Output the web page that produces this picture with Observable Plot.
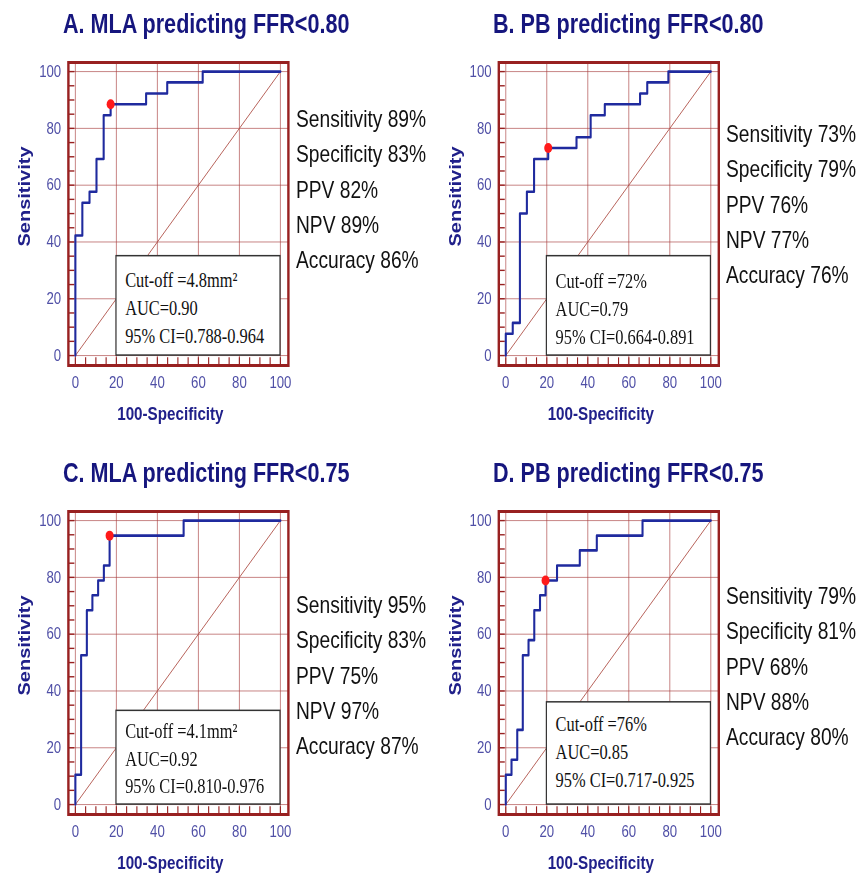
<!DOCTYPE html>
<html><head><meta charset="utf-8">
<script src="https://cdn.jsdelivr.net/npm/d3@7"></script>
<script src="https://cdn.jsdelivr.net/npm/@observablehq/plot@0.6"></script>
<style>
html,body{margin:0;padding:0;background:#fff;}
#clip{position:relative;width:860px;height:878px;overflow:hidden;background:#fff;}
#stage{position:absolute;left:0;top:0;width:1075px;height:878px;transform:scaleX(0.8);transform-origin:0 0;}
</style></head><body>
<div id="clip"><div id="stage"></div></div>
<script>
// ---------------- data ----------------
const titles = ["A. MLA predicting FFR<0.80", "B. PB predicting FFR<0.80", "C. MLA predicting FFR<0.75", "D. PB predicting FFR<0.75"];

// ROC corner points (100-Specificity, Sensitivity), in %
const fprA = [0, 0, 3.4, 6.9, 10.3, 13.8, 17.2, 34.5, 44.8, 62.1, 100];
const tprA = [0, 42.3, 53.8, 57.7, 69.2, 84.6, 88.5, 92.3, 96.2, 100, 100];
const fprB = [0, 0, 3.4, 6.9, 10.3, 13.8, 20.7, 34.5, 41.4, 48.3, 65.5, 69.0, 79.3, 100];
const tprB = [0, 7.7, 11.5, 50.0, 57.7, 69.2, 73.1, 76.9, 84.6, 88.5, 92.3, 96.2, 100, 100];
const fprC = [0, 0, 2.8, 5.6, 8.3, 11.1, 13.9, 16.7, 52.8, 100];
const tprC = [0, 10.5, 52.6, 68.4, 73.7, 78.9, 84.2, 94.7, 100, 100];
const fprD = [0, 0, 2.8, 5.6, 8.3, 11.1, 13.9, 16.7, 19.4, 25.0, 36.1, 44.4, 66.7, 100];
const tprD = [0, 10.5, 15.8, 26.3, 52.6, 57.9, 68.4, 73.7, 78.9, 84.2, 89.5, 94.7, 100, 100];

// optimal cut-off points
const cutFpr = [17.2, 20.7, 16.7, 19.4];
const cutTpr = [88.5, 73.1, 94.7, 78.9];

const statNames = ["Sensitivity", "Specificity", "PPV", "NPV", "Accuracy"];
const statsA = [89, 83, 82, 89, 86];
const statsB = [73, 79, 76, 77, 76];
const statsC = [95, 83, 75, 97, 87];
const statsD = [79, 81, 68, 88, 80];

const cutoffLabels = ["4.8mm\u00B2", "72%", "4.1mm\u00B2", "76%"];
const aucLabels = ["0.90", "0.79", "0.92", "0.85"];
const ciLabels = ["0.788-0.964", "0.664-0.891", "0.810-0.976", "0.717-0.925"];

const chance = [0, 100];
const xTicks = [0, 20, 40, 60, 80, 100];
const yTicks = [0, 20, 40, 60, 80, 100];
const minorTicks = d3.range(0, 101, 5);
const xLabel = "100-Specificity";
const yLabel = "Sensitivity";

// ---------------- layout & style ----------------
const S = 0.8; // horizontal compression of the whole figure
const SANS = "'Liberation Sans', Arial, Helvetica, sans-serif";
const SERIF = "'Liberation Serif', 'Times New Roman', serif";
const FRAME_C = "#982020", GRID_C = "#a83c3c", DIAG_C = "#b0524a";
const CURVE_C = "#1f2a9e", DOT_C = "#ff1a1a", TITLE_C = "#16167e";
const AXLAB_C = "#20208a", TICK_C = "#4f4fa6";
const FRAME_W = 275, FRAME_H = 303;
const ML = 80, MR = 6, MT = 20, MB = 70;
const X_DOMAIN = [-3.4, 103.9], Y_DOMAIN = [-3.5, 103.2];
const BOX_X = [20, 100];

const layout = [
  {fx: 68,  fy: 62,  tx: 63,  ty: 33,  sx: 296, sy: 127, boxTop: 35, boxDy: 11},
  {fx: 498, fy: 62,  tx: 493, ty: 33,  sx: 726, sy: 142, boxTop: 35, boxDy: 12},
  {fx: 68,  fy: 511, tx: 63,  ty: 482, sx: 296, sy: 613, boxTop: 33, boxDy: 7},
  {fx: 498, fy: 511, tx: 493, ty: 482, sx: 726, sy: 604, boxTop: 36, boxDy: 9}
];

const panels = [
  {fpr: fprA, tpr: tprA, stats: statsA},
  {fpr: fprB, tpr: tprB, stats: statsB},
  {fpr: fprC, tpr: tprC, stats: statsC},
  {fpr: fprD, tpr: tprD, stats: statsD}
].map((p, i) => ({
  ...p,
  title: titles[i],
  cutFpr: cutFpr[i],
  cutTpr: cutTpr[i],
  box: [`Cut-off =${cutoffLabels[i]}`, `AUC=${aucLabels[i]}`, `95% CI=${ciLabels[i]}`]
}));

const stage = document.getElementById("stage");

panels.forEach((p, i) => {
  const L = layout[i];
  const roc = p.fpr.map((x, j) => ({fpr: x, tpr: p.tpr[j]}));
  const plot = Plot.plot({
    width: ML + FRAME_W + MR,
    height: MT + FRAME_H + MB,
    marginLeft: ML, marginRight: MR, marginTop: MT, marginBottom: MB,
    style: {background: "transparent", fontFamily: SANS, overflow: "visible"},
    x: {domain: X_DOMAIN},
    y: {domain: Y_DOMAIN},
    marks: [
      Plot.gridX(xTicks, {stroke: GRID_C, strokeOpacity: 0.7, strokeWidth: 1}),
      Plot.gridY(yTicks, {stroke: GRID_C, strokeOpacity: 0.7, strokeWidth: 1}),
      Plot.line(chance, {x: d => d, y: d => d, stroke: DIAG_C, strokeWidth: 1}),
      Plot.ruleY(minorTicks, {y: d => d, x1: X_DOMAIN[0], x2: -0.3, stroke: FRAME_C, strokeWidth: 1.4}),
      Plot.ruleX(minorTicks, {x: d => d, y1: Y_DOMAIN[0], y2: -0.8, stroke: FRAME_C, strokeWidth: 1.4}),
      Plot.rect([p], {x1: BOX_X[0], x2: BOX_X[1], y1: 0, y2: L.boxTop, fill: "white", stroke: "#333", strokeWidth: 1.5}),
      Plot.text([p.box.join("\n")], {
        x: BOX_X[0], y: L.boxTop, text: d => d,
        textAnchor: "start", lineAnchor: "top", lineHeight: 1.36,
        dx: 11, dy: L.boxDy, fontFamily: SERIF, fontSize: 20.5, fill: "#111"
      }),
      Plot.line(roc, {x: "fpr", y: "tpr", curve: "step-after", stroke: CURVE_C, strokeWidth: 2.6}),
      Plot.dot([p], {x: "cutFpr", y: "cutTpr", r: 5, fill: DOT_C, stroke: "none"}),
      Plot.frame({stroke: FRAME_C, strokeWidth: 3}),
      Plot.axisX(xTicks, {anchor: "bottom", tickSize: 0, tickPadding: 11, fontSize: 16.5, fontFamily: SANS, color: TICK_C, label: null}),
      Plot.axisY(yTicks, {anchor: "left", tickSize: 0, tickPadding: 9, fontSize: 16.5, fontFamily: SANS, color: TICK_C, label: null}),
      Plot.text([xLabel], {text: d => d, frameAnchor: "bottom", textAnchor: "middle", lineAnchor: "middle", dx: -10, dy: 48,
        fontSize: 19, fontWeight: "bold", fontFamily: SANS, fill: AXLAB_C}),
      Plot.text([yLabel], {text: d => d, frameAnchor: "left", textAnchor: "middle", lineAnchor: "middle", rotate: -90, dx: -54, dy: -17.5,
        fontSize: 20, fontWeight: "bold", fontFamily: SANS, fill: AXLAB_C})
    ]
  });
  plot.style.position = "absolute";
  plot.style.left = (L.fx / S - ML) + "px";
  plot.style.top = (L.fy - MT) + "px";
  plot.style.maxWidth = "none";
  stage.appendChild(plot);
});

// titles and statistics text
const overlay = d3.create("svg")
  .attr("width", 1075).attr("height", 878)
  .style("position", "absolute").style("left", "0px").style("top", "0px").style("overflow", "visible");

panels.forEach((p, i) => {
  const L = layout[i];
  overlay.append("text")
    .attr("x", L.tx / S).attr("y", L.ty)
    .attr("font-family", SANS).attr("font-weight", "bold").attr("font-size", 27)
    .attr("fill", TITLE_C).text(p.title);
  p.stats.forEach((v, j) => {
    overlay.append("text")
      .attr("x", L.sx / S).attr("y", L.sy + j * 35.3)
      .attr("font-family", SANS).attr("font-size", 24).attr("fill", "#111")
      .text(`${statNames[j]} ${v}%`);
  });
});
stage.appendChild(overlay.node());
</script>
</body></html>
